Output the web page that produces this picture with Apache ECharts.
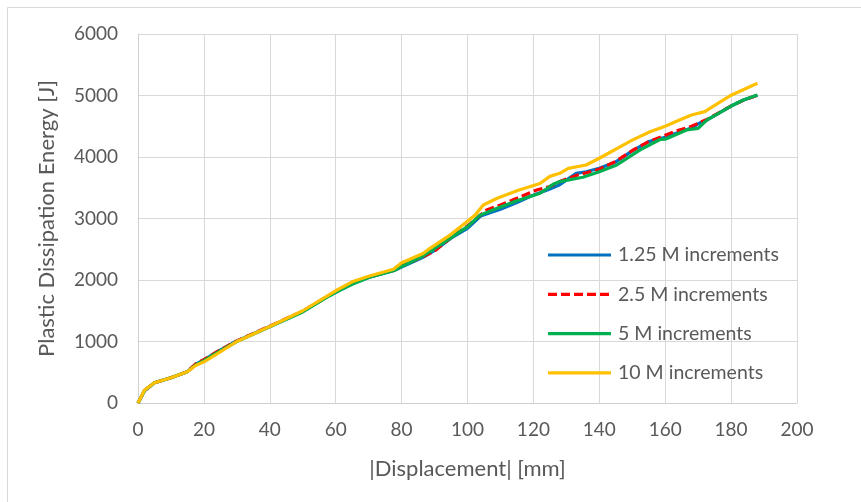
<!DOCTYPE html>
<html>
<head>
<meta charset="utf-8">
<script src="https://cdn.jsdelivr.net/npm/echarts@6/dist/echarts.min.js"></script>
<style>html,body{margin:0;padding:0;background:#fff}#c{width:861px;height:502px}</style>
</head>
<body>
<div id="c"></div>
<script>
const xTicks = [0, 20, 40, 60, 80, 100, 120, 140, 160, 180, 200];
const yTicks = [0, 1000, 2000, 3000, 4000, 5000, 6000];
const seriesNames = ['1.25 M increments', '2.5 M increments', '5 M increments', '10 M increments'];
const seriesColors = ['#0070C0', '#FF0000', '#00B050', '#FFC000'];

const inc125 = [[0,0],[2,205],[5,330],[10,410],[15,510],[17.5,630],[20,700],[24,830],[30,1010],[40,1245],[50,1490],[58,1745],[60,1800],[65,1940],[70,2040],[78,2160],[80,2210],[86.5,2370],[90,2480],[95,2680],[100,2840],[104,3040],[110,3150],[115,3260],[120,3380],[125,3480],[128,3550],[133,3735],[136,3760],[140,3816],[145,3920],[150,4100],[155,4250],[160,4320],[165,4420],[168,4470],[170,4540],[173,4610],[180,4829],[184,4930],[188,5005]];
const inc25 = [[0,0],[2,205],[5,330],[10,410],[15,510],[17.5,635],[20,705],[24,835],[30,1010],[40,1250],[50,1495],[58,1750],[60,1810],[65,1950],[70,2050],[78,2165],[80,2230],[86.5,2380],[90,2470],[95,2690],[100,2880],[105.8,3138],[110,3220],[115,3330],[121,3463],[125,3520],[128,3600],[133,3700],[140,3800],[145,3930],[150.3,4114],[155,4250],[162.6,4410],[167,4480],[170,4548],[173,4620],[180,4829],[184,4930],[188,5005]];
const inc5 = [[0,0],[2,205],[5,330],[10,410],[15,510],[17.5,620],[20,690],[24,820],[30,1000],[40,1240],[50,1480],[58,1740],[60,1800],[65,1930],[70,2040],[78,2160],[80,2220],[86.5,2390],[88.6,2460],[95,2690],[100,2867],[103.8,3055],[109,3165],[115,3290],[122,3410],[126,3556],[128,3600],[135,3670],[140,3760],[145.3,3870],[152.4,4115],[158.4,4285],[160,4290],[166.5,4440],[170,4466],[172.6,4600],[180,4829],[183.7,4927],[188,5008]];
const inc10 = [[0,0],[2,210],[5,330],[10,410],[15,510],[17.5,610],[20,670],[24,800],[30,1000],[40,1245],[50,1500],[58,1760],[60,1825],[65,1970],[70,2060],[77.5,2175],[80,2280],[86.5,2430],[88.6,2515],[94.7,2730],[99.7,2945],[102.3,3055],[104.8,3220],[109,3330],[115.4,3460],[122,3570],[125,3685],[128,3735],[130.6,3815],[136,3870],[140,3980],[150,4275],[155.4,4410],[160,4500],[164.5,4605],[168,4683],[172,4737],[176,4873],[180,5005],[188,5200]];

const FONT = 'Lato';
const TXT = '#595959';
const chart = echarts.init(document.getElementById('c'), null, {renderer: 'canvas'});
const dashes = [null, [9, 4], null, null];
const mk = (i, data) => ({
  name: seriesNames[i], type: 'line', data, symbol: 'none', smooth: false,
  lineStyle: {color: seriesColors[i], width: 3.2, type: dashes[i] || 'solid'},
  itemStyle: {color: seriesColors[i]}, z: 2
});
// legend drawn as graphic to match line-only keys
const legendGraphics = [];
seriesNames.forEach((n, i) => {
  const y = 255 + i * 39.3;
  legendGraphics.push({type: 'line', shape: {x1: 548, y1: y, x2: 611, y2: y},
    style: {stroke: seriesColors[i], lineWidth: 3.2, lineDash: dashes[i] || null}, z: 10});
  legendGraphics.push({type: 'text', x: 618, y: y,
    style: {text: n, fill: TXT, font: '19.5px ' + FONT, textVerticalAlign: 'middle'}, z: 10});
});
chart.setOption({
  animation: false,
  backgroundColor: '#fff',
  graphic: [{type: 'rect', shape: {x: 7.5, y: 7.5, width: 900, height: 600}, style: {fill: 'none', stroke: '#d9d9d9', lineWidth: 1}, z: -10}].concat(legendGraphics),
  grid: {left: 138, right: 64, top: 34, bottom: 99, containLabel: false},
  xAxis: {
    type: 'value', min: xTicks[0], max: xTicks[xTicks.length - 1], interval: 20,
    name: '|Displacement| [mm]', nameLocation: 'middle', nameGap: 55,
    nameTextStyle: {fontFamily: FONT, fontSize: 22, color: TXT},
    axisLine: {show: true, lineStyle: {color: '#d0d0d0', width: 1}},
    axisTick: {show: false},
    axisLabel: {fontFamily: FONT, fontSize: 19, color: TXT, margin: 17, formatter: v => String(v)},
    splitLine: {show: true, lineStyle: {color: '#d9d9d9', width: 1}}
  },
  yAxis: {
    type: 'value', min: yTicks[0], max: yTicks[yTicks.length - 1], interval: 1000,
    name: 'Plastic Dissipation Energy [J]', nameLocation: 'middle', nameGap: 80,
    nameTextStyle: {fontFamily: FONT, fontSize: 22, color: TXT},
    axisLine: {show: true, lineStyle: {color: '#d0d0d0', width: 1}},
    axisTick: {show: false},
    axisLabel: {fontFamily: FONT, fontSize: 19, color: TXT, margin: 20, formatter: v => String(v)},
    splitLine: {show: true, lineStyle: {color: '#d9d9d9', width: 1}}
  },
  series: [mk(0, inc125), mk(1, inc25), mk(2, inc5), mk(3, inc10)]
});
</script>
</body>
</html>
